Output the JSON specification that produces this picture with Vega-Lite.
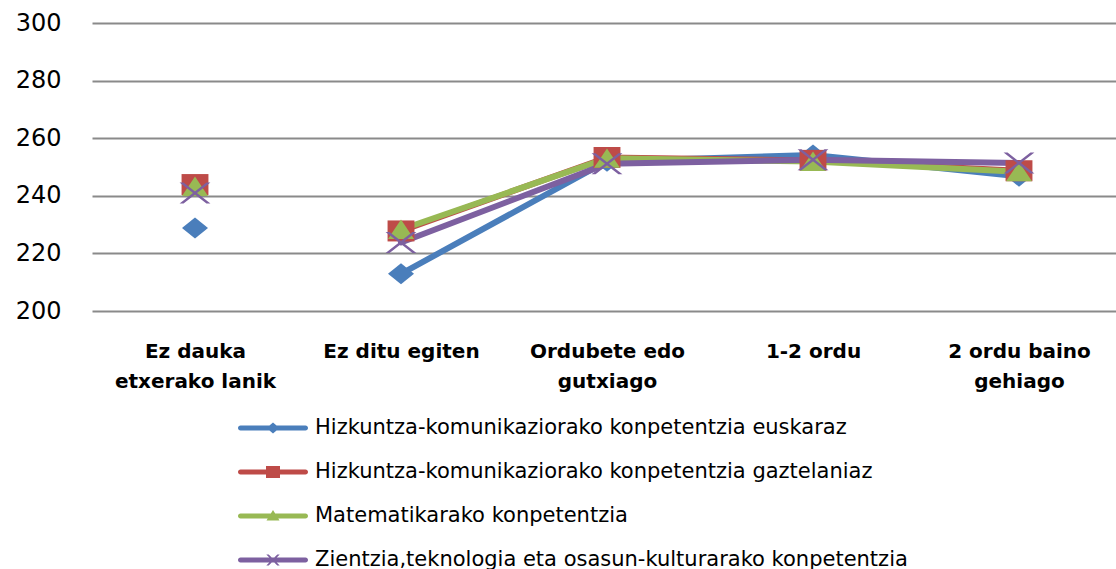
{
  "$schema": "https://vega.github.io/schema/vega-lite/v6.json",
  "width": 1030,
  "height": 288,
  "autosize": {"type": "none"},
  "padding": {"left": 92, "top": 23, "right": 0, "bottom": 258},
  "background": "white",
  "config": {"view": {"stroke": null}, "font": "DejaVu Sans"},
  "data": {
    "values": [
      {"cat": "Ez dauka etxerako lanik", "idx": 1, "series": "Hizkuntza-komunikaziorako konpetentzia euskaraz", "score": 228.8},
      {"cat": "Ez ditu egiten", "idx": 2, "series": "Hizkuntza-komunikaziorako konpetentzia euskaraz", "score": 212.9},
      {"cat": "Ordubete edo gutxiago", "idx": 3, "series": "Hizkuntza-komunikaziorako konpetentzia euskaraz", "score": 252.0},
      {"cat": "1-2 ordu", "idx": 4, "series": "Hizkuntza-komunikaziorako konpetentzia euskaraz", "score": 254.2},
      {"cat": "2 ordu baino gehiago", "idx": 5, "series": "Hizkuntza-komunikaziorako konpetentzia euskaraz", "score": 246.8},
      {"cat": "Ez dauka etxerako lanik", "idx": 1, "series": "Hizkuntza-komunikaziorako konpetentzia gaztelaniaz", "score": 243.9},
      {"cat": "Ez ditu egiten", "idx": 2, "series": "Hizkuntza-komunikaziorako konpetentzia gaztelaniaz", "score": 227.8},
      {"cat": "Ordubete edo gutxiago", "idx": 3, "series": "Hizkuntza-komunikaziorako konpetentzia gaztelaniaz", "score": 253.3},
      {"cat": "1-2 ordu", "idx": 4, "series": "Hizkuntza-komunikaziorako konpetentzia gaztelaniaz", "score": 252.3},
      {"cat": "2 ordu baino gehiago", "idx": 5, "series": "Hizkuntza-komunikaziorako konpetentzia gaztelaniaz", "score": 248.7},
      {"cat": "Ez dauka etxerako lanik", "idx": 1, "series": "Matematikarako konpetentzia", "score": 243.2},
      {"cat": "Ez ditu egiten", "idx": 2, "series": "Matematikarako konpetentzia", "score": 228.3},
      {"cat": "Ordubete edo gutxiago", "idx": 3, "series": "Matematikarako konpetentzia", "score": 253.0},
      {"cat": "1-2 ordu", "idx": 4, "series": "Matematikarako konpetentzia", "score": 251.9},
      {"cat": "2 ordu baino gehiago", "idx": 5, "series": "Matematikarako konpetentzia", "score": 248.3},
      {"cat": "Ez dauka etxerako lanik", "idx": 1, "series": "Zientzia,teknologia eta osasun-kulturarako konpetentzia", "score": 241.0},
      {"cat": "Ez ditu egiten", "idx": 2, "series": "Zientzia,teknologia eta osasun-kulturarako konpetentzia", "score": 223.8},
      {"cat": "Ordubete edo gutxiago", "idx": 3, "series": "Zientzia,teknologia eta osasun-kulturarako konpetentzia", "score": 251.1},
      {"cat": "1-2 ordu", "idx": 4, "series": "Zientzia,teknologia eta osasun-kulturarako konpetentzia", "score": 252.5},
      {"cat": "2 ordu baino gehiago", "idx": 5, "series": "Zientzia,teknologia eta osasun-kulturarako konpetentzia", "score": 251.4}
    ]
  },
  "encoding": {
    "x": {
      "field": "cat",
      "type": "nominal",
      "sort": ["Ez dauka etxerako lanik", "Ez ditu egiten", "Ordubete edo gutxiago", "1-2 ordu", "2 ordu baino gehiago"],
      "scale": {"padding": 0.5},
      "axis": {
        "title": null,
        "domain": false,
        "ticks": false,
        "grid": false,
        "labelAngle": 0,
        "labelBaseline": "top",
        "labelLineHeight": 30,
        "labelFont": "DejaVu Sans",
        "labelFontWeight": "bold",
        "labelFontSize": 20,
        "labelColor": "#000000",
        "labelPadding": 30,
        "labelLimit": 400,
        "labelExpr": "datum.value == 'Ez dauka etxerako lanik' ? ['Ez dauka', 'etxerako lanik'] : datum.value == 'Ordubete edo gutxiago' ? ['Ordubete edo', 'gutxiago'] : datum.value == '2 ordu baino gehiago' ? ['2 ordu baino', 'gehiago'] : datum.value"
      }
    },
    "y": {
      "field": "score",
      "type": "quantitative",
      "scale": {"domain": [200, 300], "nice": false, "zero": false},
      "axis": {
        "title": null,
        "domain": false,
        "ticks": false,
        "values": [200, 220, 240, 260, 280, 300],
        "grid": true,
        "gridColor": "#8a8a8a",
        "gridWidth": 2,
        "labelFont": "DejaVu Sans",
        "labelFontSize": 24,
        "labelColor": "#000000",
        "labelPadding": 31
      }
    }
  },
  "layer": [
    {
      "transform": [{"filter": "datum.idx > 1"}],
      "mark": {"type": "line", "strokeWidth": 6, "strokeCap": "round", "strokeJoin": "round", "opacity": 1},
      "encoding": {
        "color": {
          "field": "series",
          "type": "nominal",
          "scale": {
            "domain": ["Hizkuntza-komunikaziorako konpetentzia euskaraz", "Hizkuntza-komunikaziorako konpetentzia gaztelaniaz", "Matematikarako konpetentzia", "Zientzia,teknologia eta osasun-kulturarako konpetentzia"],
            "range": ["#4a7ebb", "#be4b48", "#98b954", "#7d60a0"]
          },
          "legend": null
        },
        "order": {"field": "idx", "type": "quantitative"}
      }
    },
    {
      "mark": {"type": "point", "filled": true, "opacity": 1, "size": 441},
      "encoding": {
        "color": {
          "field": "series",
          "type": "nominal",
          "scale": {
            "domain": ["Hizkuntza-komunikaziorako konpetentzia euskaraz", "Hizkuntza-komunikaziorako konpetentzia gaztelaniaz", "Matematikarako konpetentzia", "Zientzia,teknologia eta osasun-kulturarako konpetentzia"],
            "range": ["#4a7ebb", "#be4b48", "#98b954", "#7d60a0"]
          },
          "legend": null
        },
        "shape": {
          "field": "series",
          "type": "nominal",
          "scale": {
            "domain": ["Hizkuntza-komunikaziorako konpetentzia euskaraz", "Hizkuntza-komunikaziorako konpetentzia gaztelaniaz", "Matematikarako konpetentzia", "Zientzia,teknologia eta osasun-kulturarako konpetentzia"],
            "range": [
              "M0,-1L1.24,0L0,1L-1.24,0Z",
              "M-1.28,-1L1.28,-1L1.28,1L-1.28,1Z",
              "M0,-0.95L1.24,0.9L-1.24,0.9Z",
              "M-1.47,-1L-1.09,-1L1.47,1L1.09,1ZM1.09,-1L1.47,-1L-1.09,1L-1.47,1Z"
            ]
          },
          "legend": null
        }
      }
    },
    {
      "transform": [{"filter": "false"}],
      "mark": {"type": "point", "filled": true, "opacity": 1, "size": 400},
      "encoding": {
        "color": {
          "field": "series",
          "type": "nominal",
          "scale": {
            "domain": ["Hizkuntza-komunikaziorako konpetentzia euskaraz", "Hizkuntza-komunikaziorako konpetentzia gaztelaniaz", "Matematikarako konpetentzia", "Zientzia,teknologia eta osasun-kulturarako konpetentzia"],
            "range": ["#4a7ebb", "#be4b48", "#98b954", "#7d60a0"]
          },
          "legend": {
            "orient": "none",
            "legendX": 170,
            "legendY": 394,
            "title": null,
            "direction": "vertical",
            "padding": 0,
            "labelFont": "DejaVu Sans",
            "labelFontSize": 21,
            "labelColor": "#000000",
            "labelOffset": 31,
            "labelLimit": 900,
            "symbolSize": 400,
            "rowPadding": 23
          }
        },
        "shape": {
          "field": "series",
          "type": "nominal",
          "scale": {
            "domain": ["Hizkuntza-komunikaziorako konpetentzia euskaraz", "Hizkuntza-komunikaziorako konpetentzia gaztelaniaz", "Matematikarako konpetentzia", "Zientzia,teknologia eta osasun-kulturarako konpetentzia"],
            "range": [
              "M-3.25,-0.25L3.25,-0.25A0.25,0.25 0 0 1 3.25,0.25L-3.25,0.25A0.25,0.25 0 0 1 -3.25,-0.25ZM0,-0.55L0.65,0L0,0.55L-0.65,0Z",
              "M-3.25,-0.25L3.25,-0.25A0.25,0.25 0 0 1 3.25,0.25L-3.25,0.25A0.25,0.25 0 0 1 -3.25,-0.25ZM-0.7,-0.6L0.7,-0.6L0.7,0.6L-0.7,0.6Z",
              "M-3.25,-0.25L3.25,-0.25A0.25,0.25 0 0 1 3.25,0.25L-3.25,0.25A0.25,0.25 0 0 1 -3.25,-0.25ZM0,-0.6L0.65,0.45L-0.65,0.45Z",
              "M-3.25,-0.25L3.25,-0.25A0.25,0.25 0 0 1 3.25,0.25L-3.25,0.25A0.25,0.25 0 0 1 -3.25,-0.25ZM-0.67,-0.55L-0.43,-0.55L0.67,0.55L0.43,0.55ZM0.43,-0.55L0.67,-0.55L-0.43,0.55L-0.67,0.55Z"
            ]
          }
        }
      }
    }
  ],
  "resolve": {"scale": {"color": "independent", "shape": "independent"}}
}
